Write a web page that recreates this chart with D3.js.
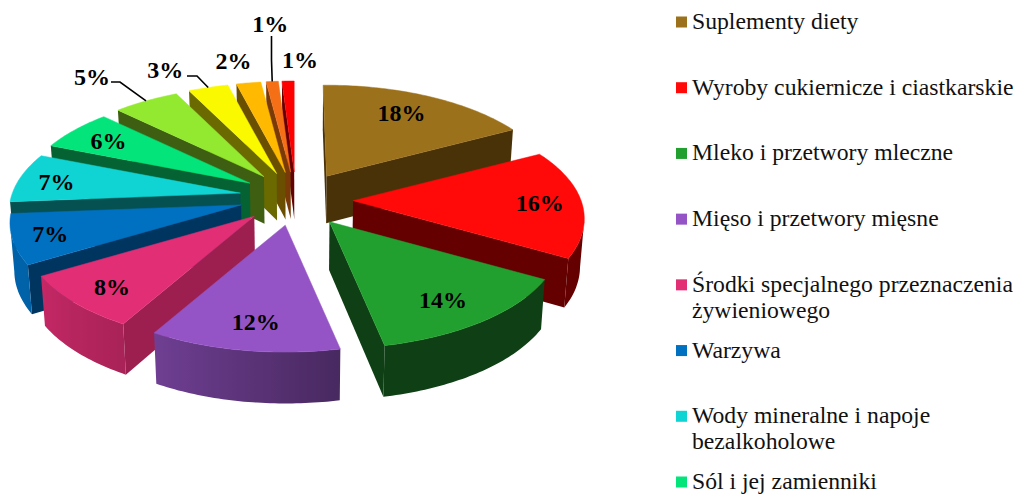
<!DOCTYPE html>
<html>
<head>
<meta charset="utf-8">
<script src="https://cdn.jsdelivr.net/npm/d3@7"></script>
<style>
  body { margin: 0; background: #fff; }
  text { font-family: "Liberation Serif", serif; }
</style>
</head>
<body>
<svg id="chartSvg" width="1018" height="494"><defs></defs></svg>
<script>
// Values as printed on the slices, clockwise from 12 o'clock
const values = [18, 16, 14, 12, 8, 7, 7, 6, 5, 3, 2, 1, 1];

// The legend in the picture is cut off after eight entries
const legendNames = [
  ["Suplementy diety"],
  ["Wyroby cukiernicze i ciastkarskie"],
  ["Mleko i przetwory mleczne"],
  ["Mięso i przetwory mięsne"],
  ["Środki specjalnego przeznaczenia", "żywieniowego"],
  ["Warzywa"],
  ["Wody mineralne i napoje", "bezalkoholowe"],
  ["Sól i jej zamienniki"]
];

const topColors = ["#9c711b", "#ff0909", "#22a02f", "#9554c5", "#e22e75", "#0070c0", "#10d3d3",
  "#03e47a", "#92e92f", "#faf900", "#ffb900", "#f56f17", "#ff0000"];
const wallColors = ["#4a3208", "#640000", "#0f3f14", "#4a2660", "#9c1f50", "#003560", "#055050",
  "#056333", "#3e5f12", "#6a6a00", "#6a4f00", "#7a3a08", "#640000"];

const svg = d3.select("#chartSvg");
const defs = svg.select("defs");

// Pie plane seen in perspective
const cx = 296, cy = 199;
const radiusX = 228, radiusY = 106, perspective = 0.165;
const explodeX = 57, explodeY = 27, frontSkew = 3.5;

// The original's 3D view skews the angles a little, so correct for it
const angleWarp = d3.scaleLinear()
  .domain([0, 64.8, 122.4, 172.8, 216, 244.8, 270, 295.2, 316.8, 334.8, 345.6, 360])
  .range([-1, -3, -2.4, -4.5, -6.5, -6, -4.6, -3.2, -2.4, -1, 0, 0]);

// How bright the outer wall is, by angle
const arcShade = d3.scaleLinear()
  .domain([90, 130, 172, 216, 245, 270])
  .range([0.39, 0.42, 0.48, 0.75, 0.87, 0.9])
  .clamp(true);

const toDeg = a => a * 180 / Math.PI;
const toRad = a => a * Math.PI / 180;

const slices = d3.pie().sort(null).value(d => d)(values).map((d, i) => ({
  index: i,
  value: d.value,
  start: toDeg(d.startAngle),
  end: toDeg(d.endAngle),
  mid: toDeg((d.startAngle + d.endAngle) / 2)
}));

function project(slice, deg, r) {
  const t = toRad(deg + angleWarp(deg));
  const wx = r * Math.sin(t), wy = r * Math.cos(t);
  const s = 1 / (1 + perspective * wy);
  const cosMid = Math.cos(toRad(slice.mid));
  return [
    cx + explodeX * Math.sin(toRad(slice.mid)) + frontSkew * Math.max(0, -cosMid) + radiusX * wx * s,
    cy - explodeY * cosMid - radiusY * wy * s
  ];
}

// Bottom of the extrusion: verticals converge slightly, depth grows toward the viewer
function drop(p) {
  return [300 + (p[0] - 300) * 0.985, p[1] + 49 + (p[1] - 256) * 0.025];
}

const polygon = d3.line().curve(d3.curveLinearClosed);

function arcPoints(slice) {
  const steps = Math.max(3, Math.ceil(slice.end - slice.start));
  return d3.range(steps + 1).map(k => {
    const deg = slice.start + (slice.end - slice.start) * k / steps;
    return { deg, p: project(slice, deg, 1) };
  });
}

function wallColor(slice, deg) {
  if (slice.index < 3) return wallColors[slice.index];
  const c = d3.rgb(topColors[slice.index]), k = arcShade(deg);
  return d3.rgb(c.r * k, c.g * k, c.b * k).formatHex();
}

// Back slices first so the nearer ones paint over them
const order = slices.slice().sort((a, b) => Math.cos(toRad(b.mid)) - Math.cos(toRad(a.mid)));

order.forEach(slice => {
  const g = svg.append("g").attr("class", "slice");
  const apex = project(slice, 0, 0);
  const arc = arcPoints(slice);
  const inner = arc[Math.floor(arc.length / 2)].p;

  // A radial wall shows only when the slice top lies above its edge
  [arc[0].p, arc[arc.length - 1].p].forEach(outer => {
    const ex = outer[0] - apex[0], ey = outer[1] - apex[1];
    const crossInner = ex * (inner[1] - apex[1]) - ey * (inner[0] - apex[0]);
    if (crossInner * ex > 0) return;
    g.append("path")
      .attr("d", polygon([apex, outer, drop(outer), drop(apex)]))
      .attr("fill", wallColors[slice.index]);
  });

  // Outer wall, front half only, shaded left to right
  const front = arc.filter((d, k) =>
    (k > 0 && d.p[0] < arc[k - 1].p[0]) || (k < arc.length - 1 && arc[k + 1].p[0] < d.p[0]));
  if (front.length > 1) {
    const id = `wall${slice.index}`;
    const x0 = front[front.length - 1].p[0], x1 = front[0].p[0];
    const grad = defs.append("linearGradient")
      .attr("id", id)
      .attr("gradientUnits", "userSpaceOnUse")
      .attr("x1", x0).attr("x2", x1)
      .attr("y1", 0).attr("y2", 0);
    front.slice().reverse().forEach(d => {
      grad.append("stop")
        .attr("offset", (d.p[0] - x0) / (x1 - x0))
        .attr("stop-color", wallColor(slice, d.deg));
    });
    const rim = front.map(d => d.p);
    g.append("path")
      .attr("d", polygon(rim.concat(rim.map(drop).reverse())))
      .attr("fill", `url(#${id})`);
  }

  g.append("path")
    .attr("d", polygon([apex].concat(arc.map(d => d.p))))
    .attr("fill", topColors[slice.index])
    .attr("stroke", topColors[slice.index])
    .attr("stroke-width", 0.5);
});

// Percent labels, nudged from the point at 0.8 radius on each slice
const labelShift = [[-8, 2], [4, 1], [-6, 1], [3, 1], [-2, 4], [-10, 2], [-7, 1], [1, 1],
  [-54, -24], [-43, -18], [-15, -22], [-2, -57], [12, -21]];

slices.forEach((slice, i) => {
  const anchor = project(slice, slice.mid, i < 8 ? 0.8 : 1);
  svg.append("text")
    .attr("x", anchor[0] + labelShift[i][0])
    .attr("y", anchor[1] + labelShift[i][1] + 8)
    .attr("text-anchor", "middle")
    .attr("font-size", 24)
    .attr("font-weight", "bold")
    .attr("fill", "#000")
    .text(`${slice.value}%`);
});

// Leader lines from the outside labels to their slices
const leader = d3.line();
[
  { slice: 8, from: [111, 82], elbow: [120, 82] },
  { slice: 9, from: [187, 76], elbow: [197, 76] },
  { slice: 11, from: [271.5, 36], elbow: [271.5, 60] }
].forEach(d => {
  svg.append("path")
    .attr("d", leader([d.from, d.elbow, project(slices[d.slice], slices[d.slice].mid, 1)]))
    .attr("fill", "none")
    .attr("stroke", "#000")
    .attr("stroke-width", 1.6);
});

// Legend
const legendY = d3.scalePoint()
  .domain(d3.range(legendNames.length))
  .range([22, 482]);

legendNames.forEach((lines, i) => {
  const y = legendY(i);
  svg.append("rect")
    .attr("x", 676)
    .attr("y", y - 5.5)
    .attr("width", 11)
    .attr("height", 11)
    .attr("fill", topColors[i]);
  const label = svg.append("text")
    .attr("x", 692)
    .attr("y", y + 7)
    .attr("font-size", 23.7)
    .attr("fill", "#111");
  lines.forEach((line, k) => {
    label.append("tspan")
      .attr("x", 692)
      .attr("dy", k ? 26 : 0)
      .text(line);
  });
});
</script>
</body>
</html>
